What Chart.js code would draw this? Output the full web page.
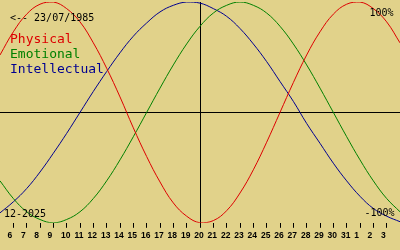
<!DOCTYPE html>
<html>
<head>
<meta charset="utf-8">
<script src="https://cdn.jsdelivr.net/npm/chart.js@4"></script>
<style>
  html, body { margin: 0; padding: 0; background: #e1d28a; }
  canvas { display: block; }
</style>
</head>
<body>
<canvas id="bio" width="400" height="250"></canvas>
<script>
// days shown: 5 Dec 2025 .. 4 Jan 2026
const days = ['5','6','7','8','9','10','11','12','13','14','15','16','17','18','19','20',
  '21','22','23','24','25','26','27','28','29','30','31','1','2','3','4']

// values in %, one per day
const physical = [52, 73, 89, 98, 100, 94, 82, 63, 40, 14, -14, -40, -63, -82, -94, -100,
  -98, -89, -73, -52, -27, 0, 27, 52, 73, 89, 98, 100, 94, 82, 63]
const emotional = [-62, -78, -90, -97, -100, -97, -90, -78, -62, -43, -22, 0, 22, 43, 62, 78,
  90, 97, 100, 97, 90, 78, 62, 43, 22, 0, -22, -43, -62, -78, -90]
const intellectual = [-91, -81, -69, -54, -37, -19, 0, 19, 37, 54, 69, 81, 91, 97, 100, 99,
  94, 87, 76, 62, 46, 28, 10, -10, -28, -46, -62, -76, -87, -94, -99]

const today = '20'
const birth = '<-- 23/07/1985'
const month = '12-2025'

const mono = '"DejaVu Sans Mono", monospace'

// texte fixe par-dessus le graphique
const overlay = {
  id: 'overlay',
  afterDraw(chart) {
    const c = chart.ctx
    c.save()
    c.textBaseline = 'alphabetic'
    c.fillStyle = '#000'
    c.font = '10px ' + mono
    c.textAlign = 'left'
    c.fillText(birth, 10, 20.5)
    c.fillText(month, 4, 216.5)
    c.textAlign = 'right'
    c.fillText('100%', 393.5, 16)
    c.fillText('-100%', 394.5, 216)
    c.textAlign = 'left'
    c.font = '13px ' + mono
    c.fillStyle = '#dd0000'
    c.fillText('Physical', 10, 43)
    c.fillStyle = '#008000'
    c.fillText('Emotional', 10, 58)
    c.fillStyle = '#000090'
    c.fillText('Intellectual', 10, 73)
    c.restore()
  }
}

const data = {
  labels: days,
  datasets: [
    { label: 'Physical', data: physical, borderColor: '#dd0000' },
    { label: 'Emotional', data: emotional, borderColor: '#008000' },
    { label: 'Intellectual', data: intellectual, borderColor: '#000090' }
  ]
}

const config = {
  type: 'line',
  data,
  options: {
    responsive: false,
    animation: false,
    devicePixelRatio: 1,
    layout: { padding: { top: 2, bottom: 6, left: 0, right: 0 } },
    elements: {
      line: { borderWidth: 1, tension: 0.4, fill: false },
      point: { radius: 0 }
    },
    plugins: {
      legend: { display: false },
      tooltip: { enabled: false }
    },
    scales: {
      x: {
        offset: false,
        afterBuildTicks: scale => { scale.ticks = scale.ticks.slice(1, -1) },
        border: { display: false },
        grid: {
          drawTicks: true,
          tickLength: 5,
          tickColor: '#000',
          color: ctx => (ctx.tick && days[ctx.tick.value] === today) ? '#000' : 'rgba(0,0,0,0)',
          lineWidth: 1
        },
        ticks: {
          autoSkip: false,
          maxRotation: 0,
          padding: 3,
          labelOffset: -1,
          color: '#000',
          font: { family: '"Liberation Sans", Arial, sans-serif', size: 8.5, weight: 'bold' },
          // les jours à un chiffre sont calés à gauche comme dans l'original
          callback: function (value) {
            const d = days[value]
            return d.length < 2 ? d + '  ' : d
          }
        }
      },
      y: {
        min: -100,
        max: 100,
        border: { display: false },
        grid: {
          drawTicks: false,
          color: ctx => (ctx.tick && ctx.tick.value === 0) ? '#000' : 'rgba(0,0,0,0)'
        },
        ticks: { display: false, stepSize: 50 }
      }
    }
  },
  plugins: [overlay]
}

const graph = new Chart(document.getElementById('bio'), config)
</script>
</body>
</html>
